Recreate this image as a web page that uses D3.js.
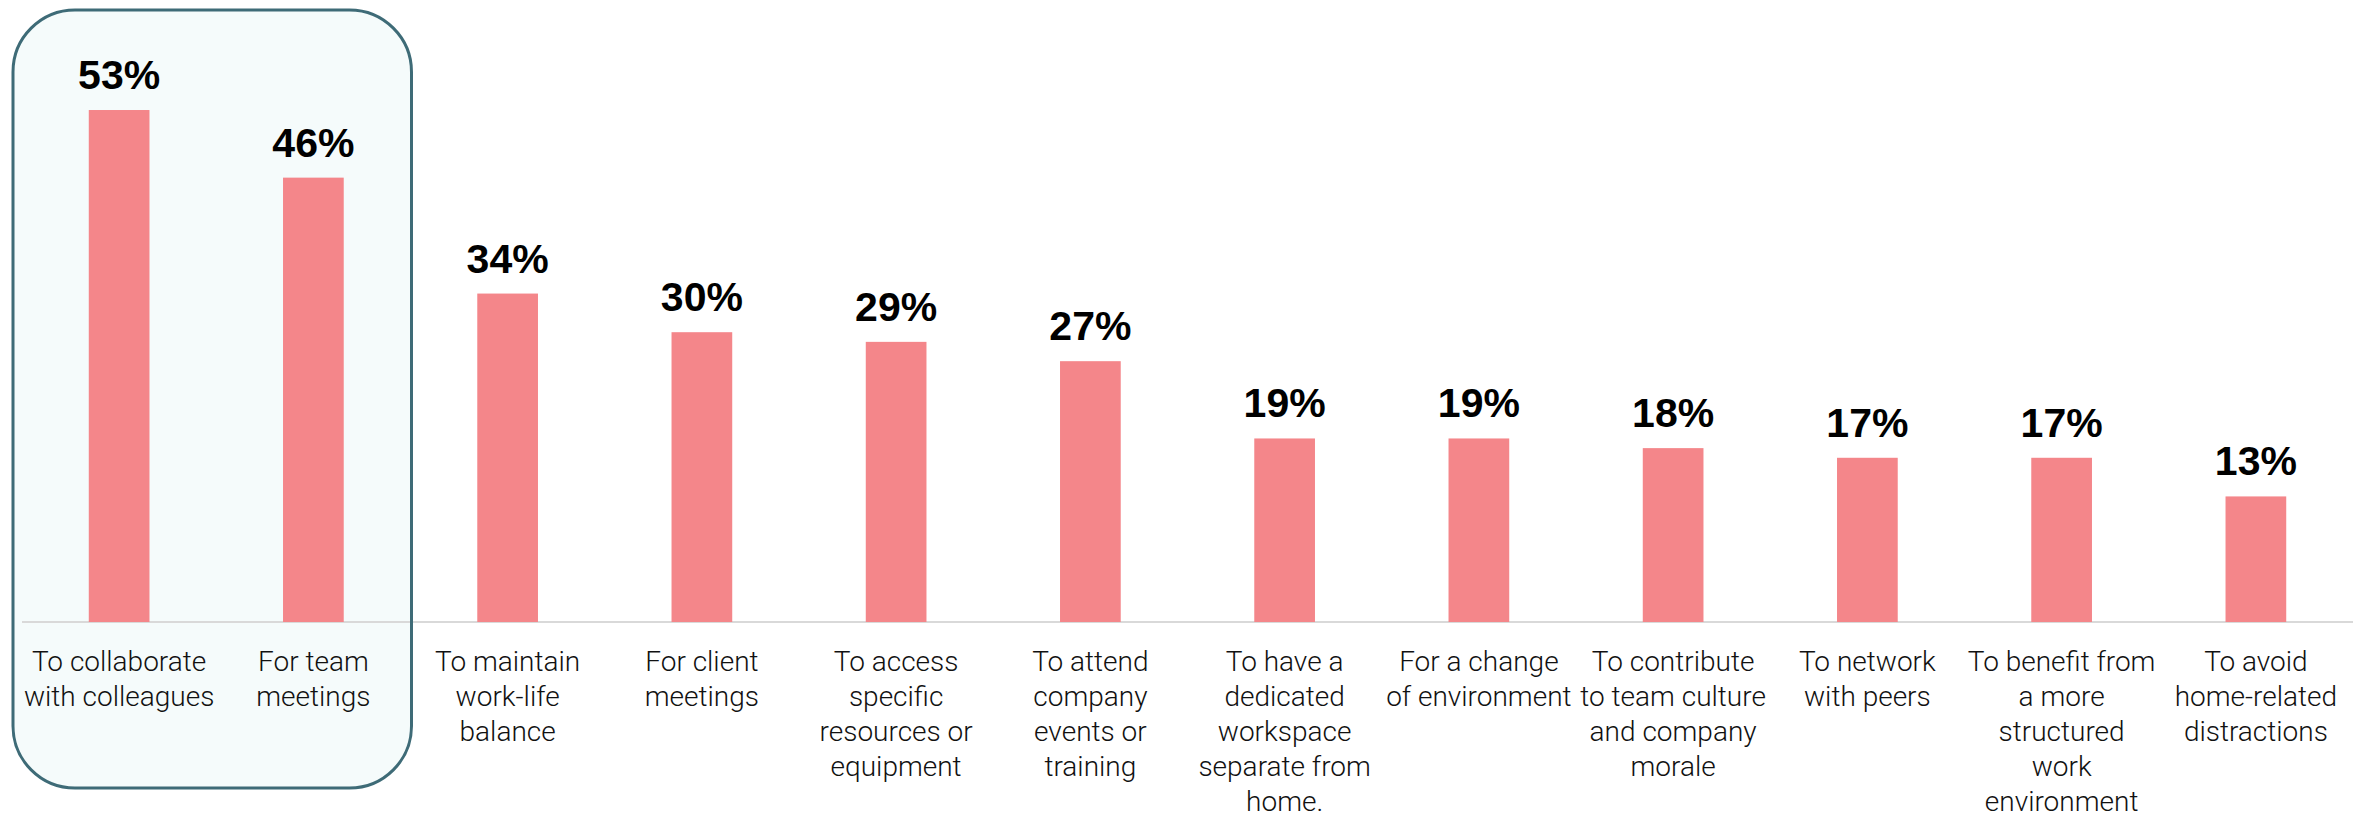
<!DOCTYPE html>
<html>
<head>
<meta charset="utf-8">
<script src="https://cdn.jsdelivr.net/npm/d3@7"></script>
<style>
  html, body { margin: 0; padding: 0; background: #ffffff; }
  svg { display: block; }
</style>
</head>
<body>
<svg id="chart" width="2367" height="816"></svg>
<script>
// Reasons for going to the office (share of respondents)
const categories = [
  "To collaborate\nwith colleagues",
  "For team\nmeetings",
  "To maintain\nwork-life\nbalance",
  "For client\nmeetings",
  "To access\nspecific\nresources or\nequipment",
  "To attend\ncompany\nevents or\ntraining",
  "To have a\ndedicated\nworkspace\nseparate from\nhome.",
  "For a change\nof environment",
  "To contribute\nto team culture\nand company\nmorale",
  "To network\nwith peers",
  "To benefit from\na more\nstructured\nwork\nenvironment",
  "To avoid\nhome-related\ndistractions"
];
const values = [53, 46, 34, 30, 29, 27, 19, 19, 18, 17, 17, 13];
const valueLabels = values.map(v => v + "%");
// The first two reasons are called out with a highlight panel
const highlighted = [categories[0], categories[1]];

const svg = d3.select("#chart");
const W = 2367, H = 816;
const baseY = 622;

const x = d3.scaleBand()
  .domain(categories)
  .range([22, 2353])
  .paddingInner(0.6875)
  .paddingOuter(0.34375);

const y = d3.scaleLinear()
  .domain([0, 60])
  .range([baseY, baseY - 60 * 9.66]);

// Highlight panel behind the first two categories
const hlLeft = x(highlighted[0]) - x.step() * x.paddingOuter() - 9;
const hlRight = x(highlighted[1]) + x.bandwidth() + x.step() * x.paddingInner() / 2 + 1;
const panel = { x: hlLeft, y: 10, w: hlRight - hlLeft, h: 778, r: 62 };

svg.append("rect")
  .attr("x", panel.x).attr("y", panel.y)
  .attr("width", panel.w).attr("height", panel.h)
  .attr("rx", panel.r).attr("ry", panel.r)
  .attr("fill", "#f5fbfb");

// Baseline
svg.append("line")
  .attr("x1", x.range()[0]).attr("x2", x.range()[1])
  .attr("y1", baseY).attr("y2", baseY)
  .attr("stroke", "#d9d9d9")
  .attr("stroke-width", 2);

// Bars
svg.append("g")
  .selectAll("rect")
  .data(values)
  .join("rect")
  .attr("x", (d, i) => x(categories[i]))
  .attr("y", d => y(d))
  .attr("width", x.bandwidth())
  .attr("height", d => baseY - y(d))
  .attr("fill", "#f4868a");

// Value labels
svg.append("g")
  .selectAll("text")
  .data(values)
  .join("text")
  .attr("x", (d, i) => x(categories[i]) + x.bandwidth() / 2)
  .attr("y", d => y(d) - 21)
  .attr("text-anchor", "middle")
  .attr("font-family", "'Liberation Sans', Arial, sans-serif")
  .attr("font-weight", "bold")
  .attr("font-size", 41)
  .attr("fill", "#000000")
  .text((d, i) => valueLabels[i]);

// Category labels, one tspan per line
const catG = svg.append("g")
  .attr("font-family", "Roboto, sans-serif")
  .attr("font-weight", 300)
  .attr("font-size", 28)
  .attr("fill", "#111111")
  .attr("text-anchor", "middle");

categories.forEach(c => {
  const t = catG.append("text")
    .attr("x", x(c) + x.bandwidth() / 2)
    .attr("y", 671);
  c.split("\n").forEach((line, li) => {
    t.append("tspan")
      .attr("x", x(c) + x.bandwidth() / 2)
      .attr("dy", li === 0 ? 0 : 35)
      .text(line);
  });
});

// Panel outline on top
svg.append("rect")
  .attr("x", panel.x).attr("y", panel.y)
  .attr("width", panel.w).attr("height", panel.h)
  .attr("rx", panel.r).attr("ry", panel.r)
  .attr("fill", "none")
  .attr("stroke", "#3e6b77")
  .attr("stroke-width", 3);
</script>
</body>
</html>
